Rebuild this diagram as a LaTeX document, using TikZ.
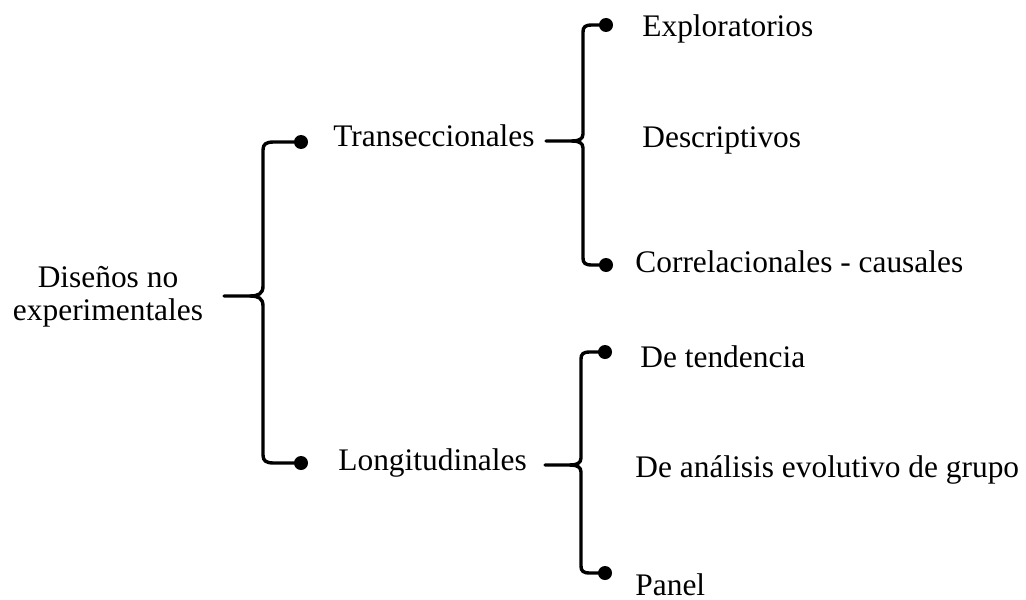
\documentclass[tikz,border=0pt]{standalone}
\usepackage{fontspec}
\setmainfont{Liberation Serif}
\begin{document}
\begin{tikzpicture}[x=0.5pt,y=-0.5pt,
  label/.style={anchor=base west,inner sep=0pt,font=\fontsize{15.7pt}{16.7pt}\selectfont},
  brace/.style={line width=1.7pt,line join=round,line cap=round},
  dot/.style={fill=black}]
\useasboundingbox (0,0) rectangle (1026,599);

% texts
\node[label,align=center,anchor=center] (root) at (108,297) {Diseños no\\experimentales};
\node[label] (trans) at (333,146) {Transeccionales};
\node[label] (longi) at (338,470) {Longitudinales};
\node[label] (expl) at (642,37) {Exploratorios};
\node[label] (desc) at (642,147) {Descriptivos};
\node[label] (corr) at (635,272) {Correlacionales - causales};
\node[label] (tend) at (640,367) {De tendencia};
\node[label] (anal) at (635,477) {De análisis evolutivo de grupo};
\node[label] (pane) at (635,595) {Panel};

% bracket from the root to the two groups
\coordinate (b1tip) at (224,296);
\coordinate (b1top) at (301,142);
\coordinate (b1bot) at (301,463);
\draw[brace] (b1tip) -- (250,296) .. controls (258,296) and (263,294) .. (263,286)
  -- (263,150) .. controls (263,144) and (266,142) .. (274,142) -- (b1top);
\draw[brace] (250,296) .. controls (258,296) and (263,298) .. (263,306)
  -- (263,455) .. controls (263,461) and (266,463) .. (274,463) -- (b1bot);
\fill[dot] (b1top) circle[radius=3.5pt];
\fill[dot] (b1bot) circle[radius=3.5pt];

% bracket of the cross-sectional designs
\coordinate (b2tip) at (546,141);
\coordinate (b2top) at (606,25);
\coordinate (b2bot) at (606,265);
\draw[brace] (b2tip) -- (572,141) .. controls (579,141) and (583,139) .. (583,134)
  -- (583,32) .. controls (583,27) and (585,25) .. (592,25) -- (b2top);
\draw[brace] (572,141) .. controls (579,141) and (583,143) .. (583,148)
  -- (583,258) .. controls (583,263) and (585,265) .. (592,265) -- (b2bot);
\fill[dot] (b2top) circle[radius=3.5pt];
\fill[dot] (b2bot) circle[radius=3.5pt];

% bracket of the longitudinal designs
\coordinate (b3tip) at (545,465);
\coordinate (b3top) at (605,352);
\coordinate (b3bot) at (605,573);
\draw[brace] (b3tip) -- (570,465) .. controls (577,465) and (581,463) .. (581,458)
  -- (581,359) .. controls (581,354) and (583,352) .. (590,352) -- (b3top);
\draw[brace] (570,465) .. controls (577,465) and (581,467) .. (581,472)
  -- (581,566) .. controls (581,571) and (583,573) .. (590,573) -- (b3bot);
\fill[dot] (b3top) circle[radius=3.5pt];
\fill[dot] (b3bot) circle[radius=3.5pt];
\end{tikzpicture}
\end{document}
